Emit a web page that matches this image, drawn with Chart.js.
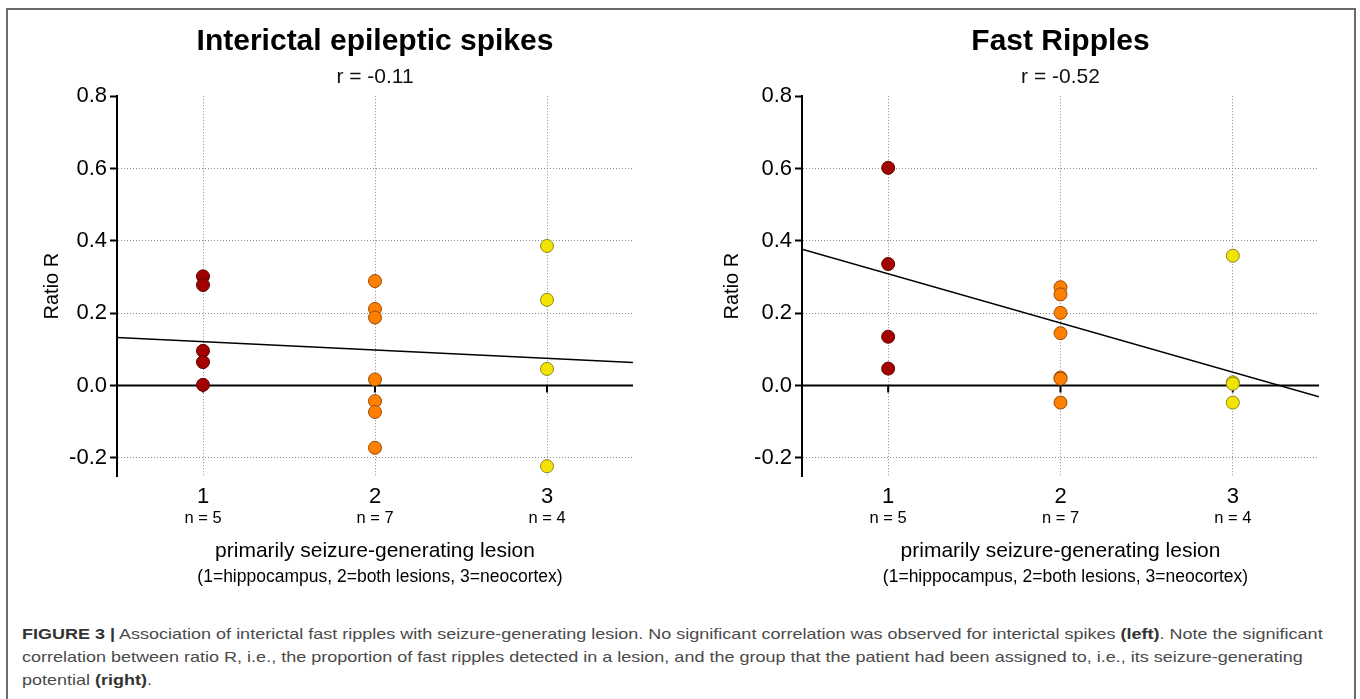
<!DOCTYPE html>
<html>
<head>
<meta charset="utf-8">
<script src="https://cdn.jsdelivr.net/npm/chart.js@4.4.0/dist/chart.umd.min.js"></script>
<style>
body { margin: 0; background: #fff; width: 1360px; height: 699px; overflow: hidden; position: relative; font-family: "Liberation Sans", Arial, sans-serif; }
#frame { position: absolute; left: 6px; top: 8px; width: 1346px; height: 700px; border: 2px solid #6b6b6b; border-bottom: none; }
#c1 { position: absolute; left: 10px; top: 12px; }
#c2 { position: absolute; left: 690px; top: 12px; }
#caption { position: absolute; left: 22px; top: 622px; font-size: 15px; line-height: 23px; color: #4a4a4a; white-space: nowrap; transform: scaleX(1.2); transform-origin: 0 0; }
#caption b { color: #333; }
</style>
</head>
<body>
<div id="frame"></div>
<canvas id="c1" width="660" height="592"></canvas>
<canvas id="c2" width="660" height="592"></canvas>
<div id="caption"><b>FIGURE 3 |</b> Association of interictal fast ripples with seizure-generating lesion. No significant correlation was observed for interictal spikes <b>(left)</b>. Note the significant<br>correlation between ratio R, i.e., the proportion of fast ripples detected in a lesion, and the group that the patient had been assigned to, i.e., its seizure-generating<br>potential <b>(right)</b>.</div>
<script>
let font = "'Liberation Sans', Arial, sans-serif"

// groups on the x axis
let groups = [1, 2, 3]
let groupN = ["n = 5", "n = 7", "n = 4"]
let yTicks = [-0.2, 0, 0.2, 0.4, 0.6, 0.8]
let fitX = [0.5, 3.5]

// interictal spikes, ratio R per group
let spikesHippo = [0.302, 0.278, 0.096, 0.065, 0.002]
let spikesBoth = [0.289, 0.212, 0.188, 0.017, -0.043, -0.073, -0.172]
let spikesNeo = [0.386, 0.237, 0.046, -0.223]
let spikesFit = [0.133, 0.064]

// fast ripples, ratio R per group
let ripplesHippo = [0.602, 0.336, 0.135, 0.047]
let ripplesBoth = [0.272, 0.252, 0.201, 0.145, 0.022, 0.019, -0.047]
let ripplesNeo = [0.359, 0.009, 0.005, -0.047]
let ripplesFit = [0.377, -0.031]

let fills = ["#a30000", "#ff7f00", "#f2e400"]
let borders = ["#5e0000", "#9a4c0a", "#8f8520"]

function pts(x, vals) {
        return vals.map(v => ({ x: x, y: v }))
}

let extras = {
        id: "extras",
        beforeDatasetsDraw(chart) {
                let ctx = chart.ctx, a = chart.chartArea
                let x = chart.scales.x, y = chart.scales.y
                let y0 = y.getPixelForValue(0)
                ctx.save()
                ctx.strokeStyle = "#000"
                ctx.lineWidth = 2
                ctx.beginPath()
                ctx.moveTo(a.left, y0)
                ctx.lineTo(a.right, y0)
                groups.forEach(g => {
                        let px = x.getPixelForValue(g)
                        ctx.moveTo(px, y0)
                        ctx.lineTo(px, y0 + 7)
                })
                ctx.stroke()
                ctx.restore()
        },
        afterDraw(chart) {
                let ctx = chart.ctx, a = chart.chartArea, x = chart.scales.x
                ctx.save()
                ctx.fillStyle = "#000"
                ctx.textAlign = "center"
                ctx.textBaseline = "middle"
                ctx.font = "16.5px " + font
                groups.forEach((g, i) => {
                        ctx.fillText(groupN[i], x.getPixelForValue(g), a.bottom + 42)
                })
                ctx.font = "17.5px " + font
                ctx.fillText("(1=hippocampus, 2=both lesions, 3=neocortex)", (a.left + a.right) / 2 + 5, a.bottom + 101)
                ctx.restore()
        }
}

function makeChart(id, title, sub, sets, fit, yWidth, padRight) {
        let datasets = sets.map((s, i) => ({
                data: pts(groups[i], s),
                backgroundColor: fills[i],
                borderColor: borders[i],
                borderWidth: 1,
                pointRadius: 6.5,
                order: 1
        }))
        datasets.push({
                data: fitX.map((v, i) => ({ x: v, y: fit[i] })),
                showLine: true,
                borderColor: "#000",
                borderWidth: 1.5,
                pointRadius: 0,
                order: 5
        })
        return new Chart(document.getElementById(id), {
                type: "scatter",
                data: { datasets: datasets },
                plugins: [extras],
                options: {
                        responsive: false,
                        animation: false,
                        layout: { padding: { left: 0, right: padRight, top: 0, bottom: 0 } },
                        plugins: {
                                legend: { display: false },
                                tooltip: { enabled: false },
                                title: { display: true, fullSize: false, text: title, color: "#000", font: { family: font, size: 30, weight: "bold", lineHeight: 1.2 }, padding: { top: 12, bottom: 5 } },
                                subtitle: { display: true, fullSize: false, text: sub, color: "#111", font: { family: font, size: 21, lineHeight: 1.2 }, padding: { top: 0, bottom: 6 } }
                        },
                        scales: {
                                x: {
                                        type: "linear", min: 0.5, max: 3.5,
                                        afterBuildTicks: s => { s.ticks = groups.map(v => ({ value: v })) },
                                        afterFit: s => { s.height = 128 },
                                        grid: { color: "#8a8a8a", lineWidth: 1, drawTicks: false },
                                        border: { display: false, dash: [1, 2] },
                                        ticks: { color: "#000", font: { family: font, size: 22 }, padding: 8, callback: v => String(v) },
                                        title: { display: true, text: "primarily seizure-generating lesion", color: "#000", font: { family: font, size: 21, lineHeight: 1.2 }, padding: 40 }
                                },
                                y: {
                                        min: -0.25, max: 0.8,
                                        afterBuildTicks: s => { s.ticks = yTicks.map(v => ({ value: v })) },
                                        afterFit: s => { s.width = yWidth },
                                        grid: {
                                                color: c => (c.tick && (c.tick.value === 0 || c.tick.value === 0.8)) ? "rgba(0,0,0,0)" : "#8a8a8a",
                                                tickColor: "#000", tickWidth: 2, tickLength: 7, tickBorderDash: []
                                        },
                                        border: { display: true, color: "#000", width: 2, dash: [1, 2] },
                                        ticks: { color: "#000", font: { family: font, size: 22 }, padding: 3, callback: v => v.toFixed(1) },
                                        title: { display: true, text: "Ratio R", color: "#000", font: { family: font, size: 20, lineHeight: 1.2 }, padding: 30 }
                                }
                        }
                }
        })
}

makeChart("c1", "Interictal epileptic spikes", "r = -0.11", [spikesHippo, spikesBoth, spikesNeo], spikesFit, 107, 37)
makeChart("c2", "Fast Ripples", "r = -0.52", [ripplesHippo, ripplesBoth, ripplesNeo], ripplesFit, 112, 31)
</script>
</body>
</html>
